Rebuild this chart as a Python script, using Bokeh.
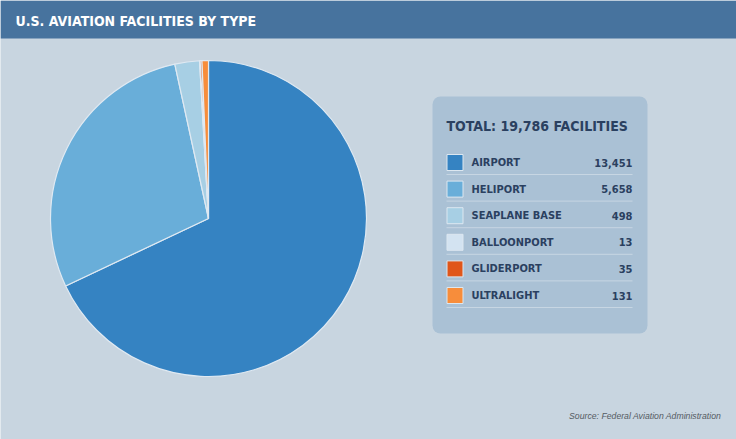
import math
from bokeh.plotting import figure
from bokeh.models import ColumnDataSource, Range1d, BoxAnnotation
from bokeh.core.properties import value
from bokeh.embed import file_html
from bokeh.resources import INLINE

# ---- data ----
categories = ["AIRPORT", "HELIPORT", "SEAPLANE BASE", "BALLOONPORT", "GLIDERPORT", "ULTRALIGHT"]
counts = [13451, 5658, 498, 13, 35, 131]
colors = ["#3583c2", "#69aed9", "#a7cfe4", "#d3e3f1", "#e0561a", "#f78d3b"]
title = "U.S. AVIATION FACILITIES BY TYPE"
total_label = "TOTAL: 19,786 FACILITIES"
source_label = "Source: Federal Aviation Administration"

W, H = 736, 439
NARROW = "DejaVu Sans Condensed"

def Y(py):
    return H - py

p = figure(width=W, height=H, output_backend="svg", toolbar_location=None,
           x_range=Range1d(0, W), y_range=Range1d(0, H), min_border=0)
p.axis.visible = False
p.grid.visible = False
p.outline_line_color = None
p.background_fill_color = "#c8d5e0"
p.border_fill_color = "#c8d5e0"

# header band
p.add_layout(BoxAnnotation(left=0, right=W, bottom=Y(38), top=H, level="underlay",
                           fill_color="#47739e", fill_alpha=1, line_color=None))
p.text(x=[15], y=[Y(20)], text=[title], text_font=value(NARROW), text_font_style="bold",
       text_font_size="14px", text_color="#ffffff", text_baseline="middle", text_align="left")

# pie
total = sum(counts)
starts, ends = [], []
acc = 0
for c in counts:
    starts.append(math.pi / 2 - acc / total * 2 * math.pi)
    acc += c
    ends.append(math.pi / 2 - acc / total * 2 * math.pi)
pie_src = ColumnDataSource(dict(start=starts, end=ends, color=colors))
p.wedge(x=208, y=Y(218), radius=158, start_angle="start", end_angle="end",
        direction="clock", fill_color="color", line_color="#dfe9f2", line_width=1.2,
        source=pie_src)

# legend panel
p.add_layout(BoxAnnotation(left=432, right=647, bottom=Y(333), top=Y(96), level="underlay",
                           fill_color="#aac1d5", fill_alpha=1, line_color=None,
                           border_radius=8))
p.text(x=[446], y=[Y(125)], text=[total_label], text_font=value(NARROW), text_font_style="bold",
       text_font_size="14px", text_color="#2a4060", text_baseline="middle")

row_y = [Y(162 + 26.6 * i) for i in range(len(categories))]
line_y = [Y(174 + 26.6 * i) for i in range(len(categories))]
leg = ColumnDataSource(dict(y=row_y, ly=line_y, name=categories,
                            val=[f"{c:,}" for c in counts], color=colors))
p.rect(x=454.5, y="y", width=16, height=16, fill_color="color", line_color="#dce7f0",
       line_width=1, source=leg)
p.segment(x0=446, x1=632, y0="ly", y1="ly", line_color="#c7d6e3", line_width=1, source=leg)
p.text(x=471, y="y", text="name", text_font=value(NARROW), text_font_style="bold",
       text_font_size="11px", text_color="#2a4060", text_baseline="middle", source=leg)
p.text(x=632, y="y", text="val", text_font=value(NARROW), text_font_style="bold",
       text_font_size="11px", text_color="#2a4060", text_baseline="middle", text_align="right",
       source=leg)

# source
p.text(x=[721], y=[Y(415)], text=[source_label], text_font=value("Liberation Sans"),
       text_font_style="italic", text_font_size="8.7px", text_color="#555b63",
       text_baseline="middle", text_align="right")

open("out.html", "w").write(file_html(p, INLINE))
